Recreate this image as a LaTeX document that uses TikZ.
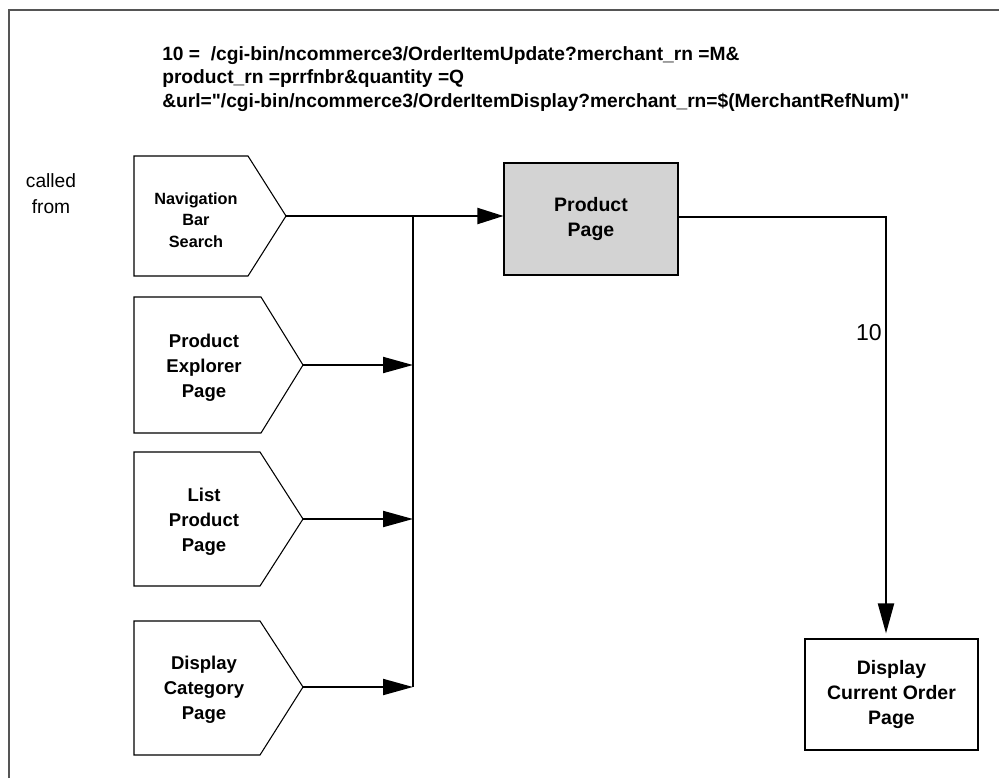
\documentclass[tikz,border=0pt]{standalone}
\usepackage{fontspec}
\setmainfont{Liberation Sans}[Ligatures=TeXOff]
\usetikzlibrary{arrows.meta}
\definecolor{pagegray}{HTML}{D3D3D3}
\definecolor{framegray}{HTML}{555555}
\begin{document}
\begin{tikzpicture}[x=0.75pt,y=-0.75pt,
  outline/.style={draw=black, line width=0.8pt},
  flow/.style={line width=1.5pt},
  tipbig/.style={-{Triangle[length=22.5pt,width=12pt]}},
  tipsmall/.style={-{Triangle[length=19.5pt,width=12pt]}},
  srctext/.style={font=\bfseries\fontsize{13.9}{18.75}\selectfont, align=center, inner sep=0pt},
  navtext/.style={font=\bfseries\fontsize{12.2}{16}\selectfont, align=center, inner sep=0pt},
  pagebox/.style={draw=black, line width=0.8pt, align=center, inner sep=0pt,
    font=\bfseries\fontsize{14.6}{19}\selectfont}
]
\useasboundingbox (0,0) rectangle (999,778);

% open frame along the top and left edges
\draw[framegray, line width=1.1pt] (9,778) -- (9,10) -- (999,10);

% URL legend (anchored on the baseline of its last line)
\node[anchor=base west, align=left, inner sep=0pt,
      font=\bfseries\fontsize{14.4}{17.6}\selectfont] (legend) at (162,107)
  {10 =\ \ /cgi-bin/ncommerce3/OrderItemUpdate?merchant\_rn =M\&\\
   product\_rn =prrfnbr\&quantity =Q\\
   \&url="/cgi-bin/ncommerce3/OrderItemDisplay?merchant\_rn=\$(MerchantRefNum)"};

\node[align=center, inner sep=0pt, font=\fontsize{14.4}{19.5}\selectfont] (calledfrom) at (51,194) {called\\from};

% calling pages (arrow-shaped outlines)
\coordinate (navtip) at (286,216);
\draw[outline] (134,156) -- (248,156) -- (navtip) -- (248,276) -- (134,276) -- cycle;
\node[navtext] (nav) at (196,220) {Navigation\\Bar\\Search};

\coordinate (petip) at (303,365);
\draw[outline] (134,297) -- (261,297) -- (petip) -- (261,433) -- (134,433) -- cycle;
\node[srctext] (pe) at (204,368) {Product\\Explorer\\Page};

\coordinate (lptip) at (303,519);
\draw[outline] (134,452) -- (260,452) -- (lptip) -- (260,586) -- (134,586) -- cycle;
\node[srctext] (lp) at (204,522) {List\\Product\\Page};

\coordinate (dctip) at (303,687);
\draw[outline] (134,621) -- (260,621) -- (dctip) -- (260,755) -- (134,755) -- cycle;
\node[srctext] (dc) at (204,690) {Display\\Category\\Page};

% target pages
\node[pagebox, fill=pagegray, minimum width=130.5pt, minimum height=84pt] (pp) at (591,219) {Product\\Page};
\node[pagebox, minimum width=129.75pt, minimum height=83.25pt] (dco) at (891.5,694.5) {Display\\Current Order\\Page};

% collector bus
\coordinate (jtop) at (413,216);
\coordinate (jbot) at (413,687);
\draw[flow] (jtop) -- (jbot);

\draw[flow,tipsmall] (navtip) -- (navtip -| pp.west);
\draw[flow,tipbig] (petip) -- (petip -| jtop);
\draw[flow,tipbig] (lptip) -- (lptip -| jtop);
\draw[flow,tipbig] (dctip) -- (dctip -| jtop);

% link 10
\coordinate (bend) at (886,217);
\draw[flow,tipbig,shorten >=3.75pt] (pp.east |- bend) -- (bend) -- (bend |- dco.north);
\node[anchor=east, inner sep=0pt, font=\fontsize{17.3}{20}\selectfont] (lbl) at (882,333) {10};

\end{tikzpicture}
\end{document}
